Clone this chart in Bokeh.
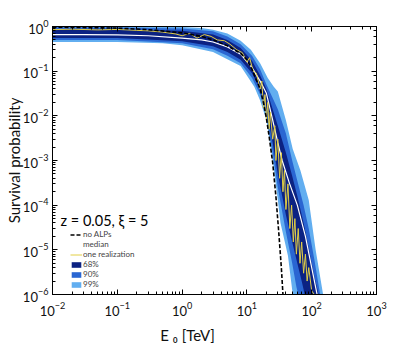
from bokeh.plotting import figure
from bokeh.models import LogAxis, LogTicker, Label, Legend, LegendItem
from bokeh.embed import file_html
from bokeh.resources import INLINE

FONT = "Lato"

# ---- data ----
noalp_E = [0.01, 0.1, 0.3, 1, 2, 3, 5, 8, 10, 12, 14, 16, 18, 20, 22, 25, 28, 31, 34, 36]
noalp_P = [0.97, 0.92, 0.85, 0.72, 0.6, 0.5, 0.37, 0.25, 0.18, 0.11, 0.063, 0.04, 0.02,
           8.9e-3, 3.5e-3, 8.9e-4, 1.6e-4, 2.5e-5, 4e-6, 1e-6]

med_E = [0.01, 0.03, 0.1, 0.3, 1, 2, 3, 5, 8, 12, 16, 20, 25, 30, 35, 45, 60, 80, 100, 125]
med_P = [0.66, 0.66, 0.65, 0.62, 0.55, 0.5, 0.45, 0.35, 0.24, 0.12, 0.06, 0.032, 8e-3,
         2.5e-3, 1e-3, 3.2e-4, 1e-4, 2e-5, 4e-6, 8e-7]

real_E = [0.01, 0.02, 0.05, 0.1, 0.2, 0.3, 0.5, 0.8, 1.0, 1.3, 1.7, 2.2, 2.8, 3.5, 4.5, 5.5,
          7, 8.5, 10, 11, 12.5, 14, 16, 17, 18, 19, 20, 21, 22, 23, 25, 27, 28, 30, 32, 34,
          36, 38, 40, 43, 46, 49, 52, 55, 58, 62, 66, 70, 75, 80, 85, 90, 100, 110]
real_P = [0.85, 0.87, 0.84, 0.86, 0.82, 0.8, 0.75, 0.68, 0.62, 0.7, 0.55, 0.66, 0.6, 0.5,
          0.48, 0.4, 0.3, 0.26, 0.16, 0.2, 0.1, 0.09, 0.04, 0.06, 0.015, 0.03, 8e-3, 0.02,
          5e-3, 0.012, 3e-3, 6e-3, 1e-3, 3e-3, 4e-4, 1.5e-3, 2e-4, 6e-4, 8e-5, 3e-4, 3e-5,
          1e-4, 1.5e-5, 5e-5, 8e-6, 3e-5, 5e-6, 1.5e-5, 3e-6, 8e-6, 2e-6, 4e-6, 1.2e-6, 1e-6]

b99_up_E = [0.01, 0.1, 1, 2, 3, 5, 8, 11.5, 16, 21, 26, 30, 40, 51, 67, 90, 115, 150]
b99_up_P = [1.0, 1.0, 0.97, 0.93, 0.85, 0.7, 0.48, 0.3, 0.15, 0.07, 0.045, 0.035, 8e-3,
            1.8e-3, 6e-4, 1.3e-4, 1e-5, 1e-6]
b99_lo_E = [0.01, 0.1, 0.5, 1, 3, 8, 13, 16, 20, 25, 30, 33, 43, 51]
b99_lo_P = [0.45, 0.45, 0.42, 0.38, 0.27, 0.13, 0.045, 0.022, 8e-3, 1e-3, 1.3e-4, 4e-5,
            7.4e-6, 1e-6]

b90_up_E = [0.01, 0.1, 1, 3, 5, 8, 12, 16, 20, 25, 30, 40, 50, 60, 75, 90, 110, 135]
b90_up_P = [0.96, 0.95, 0.9, 0.78, 0.6, 0.4, 0.22, 0.11, 0.05, 0.025, 0.014, 4e-3, 1e-3,
            3.5e-4, 1e-4, 3e-5, 6e-6, 1e-6]
b90_lo_E = [0.01, 0.1, 1, 3, 5, 8, 12, 16, 20, 25, 30, 40, 50, 58, 62]
b90_lo_P = [0.5, 0.5, 0.42, 0.31, 0.22, 0.15, 0.07, 0.03, 0.01, 1.5e-3, 2.5e-4, 2.5e-5,
            5e-6, 1.5e-6, 1e-6]

b68_up_E = [0.01, 0.1, 1, 3, 5, 8, 12, 16, 20, 25, 30, 40, 50, 60, 75, 90, 110, 128]
b68_up_P = [0.88, 0.87, 0.8, 0.66, 0.5, 0.33, 0.17, 0.08, 0.04, 0.014, 6e-3, 1.5e-3,
            4.5e-4, 1.6e-4, 4e-5, 1.1e-5, 2.5e-6, 1e-6]
b68_lo_E = [0.01, 0.1, 1, 3, 5, 8, 12, 16, 20, 25, 30, 40, 50, 60, 70, 78]
b68_lo_P = [0.55, 0.55, 0.47, 0.36, 0.27, 0.18, 0.09, 0.04, 0.014, 2.5e-3, 5e-4, 6e-5,
            1.5e-5, 5e-6, 2e-6, 1e-6]

annot_text = "z = 0.05,   ξ = 5"
legend_labels = ["no ALPs", "median", "one realization", "68%", "90%", "99%"]
x_label = "E ₀ [TeV]" + "\u00a0" * 14
y_label = "Survival probability"

C99, C90, C68 = "#62aef0", "#2a66d2", "#0c2282"

p = figure(width=407, height=346, x_axis_type="log", y_axis_type="log",
           x_range=(1e-2, 1e3), y_range=(1e-6, 1),
           output_backend="svg", toolbar_location=None,
           min_border_left=52, min_border_right=31, min_border_top=26, min_border_bottom=49)
p.xgrid.grid_line_color = None
p.ygrid.grid_line_color = None
p.outline_line_color = "black"
p.background_fill_color = "white"
p.border_fill_color = "white"


def band(up_E, up_P, lo_E, lo_P, color):
    xs = list(up_E) + list(reversed(lo_E))
    ys = list(up_P) + list(reversed(lo_P))
    return p.patch(xs, ys, fill_color=color, line_color=None)


r99 = band(b99_up_E, b99_up_P, b99_lo_E, b99_lo_P, C99)
r90 = band(b90_up_E, b90_up_P, b90_lo_E, b90_lo_P, C90)
r68 = band(b68_up_E, b68_up_P, b68_lo_E, b68_lo_P, C68)
rmed = p.line(med_E, med_P, line_color="white", line_width=1.2)
rreal = p.line(real_E, real_P, line_color="#e2cf45", line_width=1.0)
rno = p.line(noalp_E, noalp_P, line_color="black", line_width=1.6, line_dash="4 2")

for ax in (p.xaxis[0], p.yaxis[0]):
    ax.major_tick_in = 5
    ax.major_tick_out = 0
    ax.minor_tick_in = 3
    ax.minor_tick_out = 0
    ax.axis_line_color = "black"
    ax.major_tick_line_color = "black"
    ax.minor_tick_line_color = "black"
    ax.major_label_text_font = FONT
    ax.major_label_text_font_size = "13px"
    ax.major_label_text_color = "#111111"
    ax.axis_label_text_font = FONT
    ax.axis_label_text_font_style = "normal"
    ax.axis_label_text_color = "#111111"

p.yaxis[0].major_label_standoff = 4
p.xaxis[0].major_label_standoff = 7
p.yaxis[0].axis_label = y_label
p.yaxis[0].axis_label_text_font_size = "15px"
p.yaxis[0].axis_label_standoff = -3
p.xaxis[0].axis_label = x_label
p.xaxis[0].axis_label_text_font_size = "15px"
p.xaxis[0].axis_label_standoff = 7

for loc in ("above", "right"):
    a = LogAxis(ticker=LogTicker())
    a.major_tick_in = 5
    a.major_tick_out = 0
    a.minor_tick_in = 3
    a.minor_tick_out = 0
    a.major_label_text_font_size = "2px"
    a.major_label_text_color = None
    a.major_label_standoff = 0
    a.axis_line_color = "black"
    p.add_layout(a, loc)

# annotation
p.add_layout(Label(x=8, y=74, x_units="screen", y_units="screen", text=annot_text,
                   text_baseline="middle", text_font=FONT, text_font_size="14.5px",
                   text_color="black"))

legend = Legend(items=[LegendItem(label=l, renderers=[r]) for l, r in
                       zip(legend_labels, [rno, rmed, rreal, r68, r90, r99])],
                location=(18, 5), orientation="vertical",
                glyph_width=12, glyph_height=7, label_height=8, label_width=20,
                spacing=0, padding=0, margin=0, label_standoff=1,
                label_text_font=FONT, label_text_font_size="8px",
                border_line_color=None, background_fill_alpha=0)
p.add_layout(legend)

open("out.html", "w").write(file_html(p, INLINE))
